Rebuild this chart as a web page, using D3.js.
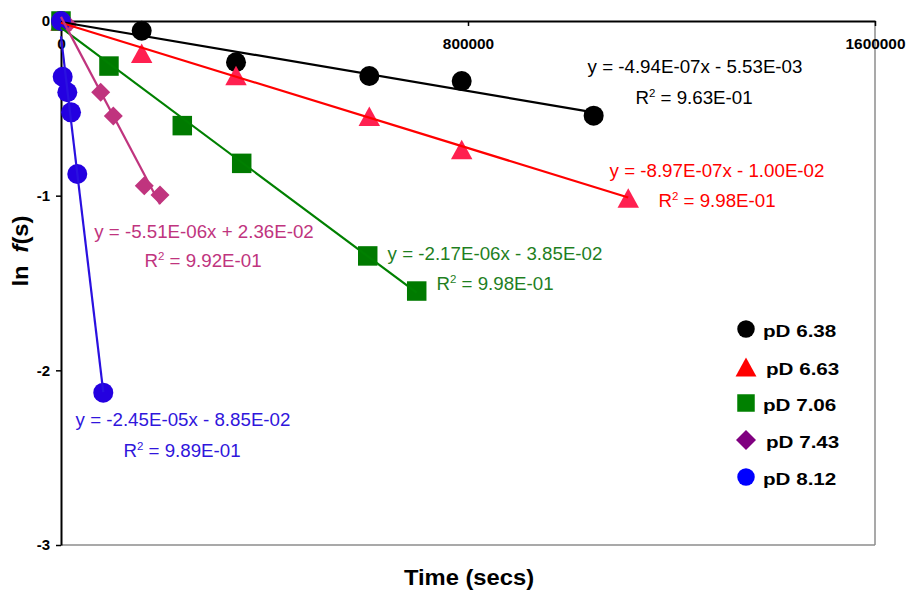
<!DOCTYPE html>
<html>
<head>
<meta charset="utf-8">
<script src="https://cdn.jsdelivr.net/npm/d3@7"></script>
<style>
body { margin: 0; background: #fff; }
text { font-family: "Liberation Sans", Arial, sans-serif; }
</style>
</head>
<body>
<svg id="chart" width="909" height="592"></svg>
<script>
// ln f(s) against time for five pD values, each with its linear trendline

var series_names = ["pD 6.38", "pD 6.63", "pD 7.06", "pD 7.43", "pD 8.12"];

var time_638 = [0, 158600, 344000, 606000, 787600, 1047000];
var lnf_638  = [0, -0.056, -0.236, -0.315, -0.344, -0.542];

var time_663 = [0, 158600, 344000, 606000, 787600, 1115000];
var lnf_663  = [0, -0.185, -0.312, -0.546, -0.735, -1.013];

var time_706 = [0, 94300, 238400, 355200, 602900, 699200];
var lnf_706  = [0, -0.258, -0.599, -0.815, -1.345, -1.546];

var time_743 = [0, 13200, 78000, 102800, 163700, 194600];
var lnf_743  = [0, -0.020, -0.408, -0.544, -0.943, -0.996];

var time_812 = [0, 3300, 12400, 19700, 32000, 83100];
var lnf_812  = [0, -0.319, -0.408, -0.523, -0.876, -2.128];

// fits as printed next to each series
var fit_slope     = [-4.94e-07, -8.97e-07, -2.17e-06, -5.51e-06, -2.45e-05];
var fit_intercept = [-5.53e-03, -1.00e-02, -3.85e-02, 2.36e-02, -8.85e-02];
var fit_eq = ["y = -4.94E-07x - 5.53E-03", "y = -8.97E-07x - 1.00E-02", "y = -2.17E-06x - 3.85E-02",
              "y = -5.51E-06x + 2.36E-02", "y = -2.45E-05x - 8.85E-02"];
var fit_r2 = ["9.63E-01", "9.98E-01", "9.98E-01", "9.92E-01", "9.89E-01"];

var x_ticks = [0, 800000, 1600000];
var y_ticks = [0, -1, -2, -3];

// ---- styling / layout ----
var marker_kind   = ["circle", "triangle", "square", "diamond", "circle"];
var marker_color  = ["#000000", "#ff2050", "#007a00", "#c0347e", "#2400e0"];
var line_color    = ["#000000", "#ff0000", "#008000", "#c0347e", "#2a10e0"];
var text_color    = ["#000000", "#ff0000", "#1f7f1f", "#c0347e", "#3016dc"];
var legend_color  = ["#000000", "#ff0000", "#008000", "#800080", "#0000ff"];
// label centres (px): equation line and R2 line
var eq_pos = [[695, 73], [717, 177], [495, 260], [204, 238], [183, 426]];
var r2_pos = [[694, 104], [717, 207], [495, 290], [203, 267], [182, 457]];
var legend_rows = [329, 367, 403, 440, 477];

var margin = {top: 21, right: 34, bottom: 47, left: 61};
var width = 909 - margin.left - margin.right, height = 592 - margin.top - margin.bottom;

var root = d3.select("#chart");
var svg = root.append("g").attr("transform", "translate(" + margin.left + "," + margin.top + ")");

var x = d3.scaleLinear().domain([0, 1600000]).range([0, width]);
var y = d3.scaleLinear().domain([-3, 0]).range([height, 0]);

var series = [
  {t: time_638, v: lnf_638},
  {t: time_663, v: lnf_663},
  {t: time_706, v: lnf_706},
  {t: time_743, v: lnf_743},
  {t: time_812, v: lnf_812}
];

// plain hyphen for negatives, like the original
function plain(d){ return String(d); }

// grey frame on right and bottom
svg.append("line").attr("x1", width).attr("x2", width).attr("y1", 0).attr("y2", height)
  .attr("stroke", "#8c8c8c").attr("stroke-width", 1.5);
svg.append("line").attr("x1", 0).attr("x2", width).attr("y1", height).attr("y2", height)
  .attr("stroke", "#8c8c8c").attr("stroke-width", 1.5);

// x axis sits on ln f = 0, labels underneath
var x_axis = d3.axisBottom(x).tickValues(x_ticks).tickFormat(plain)
  .tickSize(5).tickSizeOuter(0).tickPadding(13);
svg.append("g").attr("class", "x axis").attr("transform", "translate(0," + y(0) + ")").call(x_axis)
  .call(function(g){
    g.select(".domain").attr("stroke", "#000").attr("stroke-width", 2);
    g.selectAll(".tick line").attr("stroke", "#000").attr("stroke-width", 1.5);
    g.selectAll(".tick text").attr("font-size", 14).attr("font-weight", "bold").attr("fill", "#000")
      .attr("font-family", "Liberation Sans, Arial, sans-serif")
      .attr("transform", "scale(1.1,1)");
  });

var y_axis = d3.axisLeft(y).tickValues(y_ticks).tickFormat(plain)
  .tickSize(5).tickSizeOuter(0).tickPadding(6);
svg.append("g").attr("class", "y axis").call(y_axis)
  .call(function(g){
    g.select(".domain").attr("stroke", "#000").attr("stroke-width", 2);
    g.selectAll(".tick line").attr("stroke", "#000").attr("stroke-width", 1.5);
    g.selectAll(".tick text").attr("font-size", 15).attr("font-weight", "bold").attr("fill", "#000")
      .attr("font-family", "Liberation Sans, Arial, sans-serif");
  });

// marker shapes
var triUp = { draw: function(ctx, size){
  var r = Math.sqrt(size) / 2;
  ctx.moveTo(0, -r); ctx.lineTo(r * 1.1, r); ctx.lineTo(-r * 1.1, r); ctx.closePath();
}};
var diamond = { draw: function(ctx, size){
  var r = Math.sqrt(size) / 2;
  ctx.moveTo(0, -r); ctx.lineTo(r, 0); ctx.lineTo(0, r); ctx.lineTo(-r, 0); ctx.closePath();
}};
function markerPath(kind, w){
  if (kind == "circle") return d3.symbol(d3.symbolCircle, Math.PI * w * w / 4)();
  if (kind == "square") return d3.symbol(d3.symbolSquare, w * w)();
  if (kind == "triangle") return d3.symbol(triUp, w * w)();
  return d3.symbol(diamond, w * w)();
}
var marker_w = {circle: 20, triangle: 19.5, square: 19.5, diamond: 19};

// markers first, trendlines drawn over them
series.forEach(function(s, i){
  svg.append("g").attr("class", "series-" + i)
    .selectAll("path").data(s.t.map(function(t, j){ return [t, s.v[j]]; }))
    .enter().append("path")
    .attr("d", markerPath(marker_kind[i], marker_w[marker_kind[i]]))
    .attr("transform", function(d){ return "translate(" + x(d[0]) + "," + y(d[1]) + ")"; })
    .attr("fill", marker_color[i]);
});

var line = d3.line().x(function(d){ return x(d[0]); }).y(function(d){ return y(d[1]); });
series.forEach(function(s, i){
  var tmax = d3.max(s.t);
  var ends = [[0, fit_intercept[i]], [tmax, fit_slope[i] * tmax + fit_intercept[i]]];
  svg.append("path").datum(ends).attr("d", line)
    .attr("fill", "none").attr("stroke", line_color[i]).attr("stroke-width", 2.2);
});

// equation + R2 labels
series.forEach(function(s, i){
  root.append("text")
    .attr("transform", "translate(" + eq_pos[i][0] + "," + eq_pos[i][1] + ") scale(1.04,1)")
    .attr("text-anchor", "middle").attr("font-size", 18).attr("fill", text_color[i])
    .text(fit_eq[i]);
  var r2 = root.append("text")
    .attr("transform", "translate(" + r2_pos[i][0] + "," + r2_pos[i][1] + ") scale(1.04,1)")
    .attr("text-anchor", "middle").attr("font-size", 18).attr("fill", text_color[i]);
  r2.append("tspan").text("R");
  r2.append("tspan").attr("font-size", 11).attr("dy", -7).text("2");
  r2.append("tspan").attr("dy", 7).text(" = " + fit_r2[i]);
});

// axis titles
root.append("text")
  .attr("transform", "translate(469,585) scale(1.08,1)")
  .attr("text-anchor", "middle").attr("font-size", 22).attr("font-weight", "bold")
  .text("Time (secs)");

var ytitle = root.append("text")
  .attr("transform", "translate(28,251) rotate(-90) scale(1.08,1)")
  .attr("text-anchor", "middle").attr("font-size", 22).attr("font-weight", "bold");
ytitle.append("tspan").text("ln");
ytitle.append("tspan").attr("dx", 12).attr("font-style", "italic").text("f");
ytitle.append("tspan").text("(s)");

// legend
var legend_w = {circle: 17.5, triangle: 19, square: 17.5, diamond: 20};
var legend = root.append("g").attr("class", "legend");
series_names.forEach(function(name, i){
  legend.append("path")
    .attr("d", markerPath(marker_kind[i], legend_w[marker_kind[i]]))
    .attr("transform", "translate(746," + legend_rows[i] + ")")
    .attr("fill", legend_color[i]);
  legend.append("text")
    .attr("transform", "translate(" + (marker_kind[i] == "triangle" || marker_kind[i] == "diamond" ? 766 : 763) + "," + (legend_rows[i] + 2) + ") scale(1.25,1)")
    .attr("dy", "0.36em").attr("font-size", 16.5).attr("font-weight", "bold")
    .text(name);
});
</script>
</body>
</html>
